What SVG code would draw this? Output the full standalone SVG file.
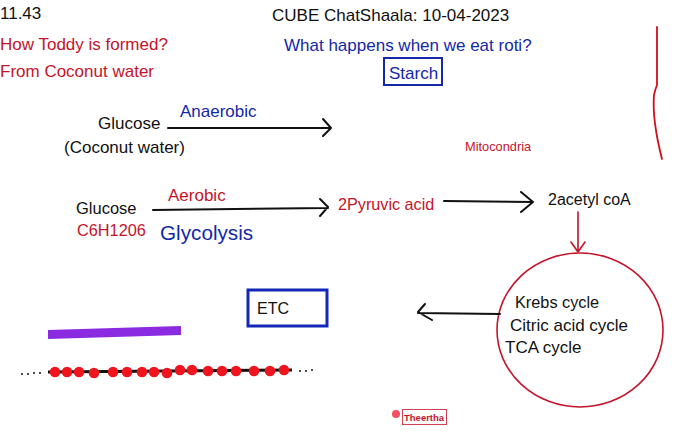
<svg xmlns="http://www.w3.org/2000/svg" width="690" height="435" viewBox="0 0 690 435">
<style>
text{font-family:"Liberation Sans",Arial,sans-serif;font-size:17px}
.k{fill:#111}
.r{fill:#c4142b}
.b{fill:#1428a8}
.ln{stroke:#111;stroke-width:2;fill:none;stroke-linecap:round;stroke-linejoin:round}
.rl{stroke:#c4142b;stroke-width:1.6;fill:none;stroke-linecap:round;stroke-linejoin:round}
</style>
<rect width="690" height="435" fill="#fff"/>
<g id="header">
<text x="0" y="19" class="k">11.43</text>
<text x="0" y="50" class="r">How Toddy is formed?</text>
<text x="0" y="77" class="r">From Coconut water</text>
<text x="272" y="21" class="k">CUBE ChatShaala: 10-04-2023</text>
<text x="284" y="51" class="b">What happens when we eat roti?</text>
</g>
<g id="starch">
<rect x="384" y="58" width="58" height="27" fill="none" stroke="#1428a8" stroke-width="2"/>
<text x="389" y="79" class="b">Starch</text>
</g>
<path d="M657 27 L657 85 Q655 90 654 95 Q652 120 662 159" fill="none" stroke="#d0101c" stroke-width="1.8" stroke-linecap="round"/>
<g id="glucose1">
<text x="98" y="129" class="k">Glucose</text>
<text x="64" y="153" class="k">(Coconut water)</text>
</g>
<text x="465" y="151" class="r" style="font-size:12.8px">Mitocondria</text>
<g id="glucose2">
<text x="76" y="214" class="k" style="font-size:16.5px">Glucose</text>
<text x="77" y="236" class="r" style="font-size:16.3px">C6H1206</text>
</g>
<text x="160" y="240" class="b" style="font-size:20.7px">Glycolysis</text>
<g id="pyruvic"><text x="338" y="210" class="r" style="font-size:16.2px">2Pyruvic acid</text></g>
<g id="acetyl"><text x="548" y="205" class="k" style="font-size:16px">2acetyl coA</text></g>
<g id="krebs">
<ellipse cx="580" cy="330" rx="83" ry="77" fill="none" stroke="#c4142b" stroke-width="1.6"/>
<text x="515" y="308" class="k" style="font-size:16.3px">Krebs cycle</text>
<text x="510" y="331" class="k">Citric acid cycle</text>
<text x="505" y="353" class="k">TCA cycle</text>
</g>
<g id="etc">
<rect x="248" y="290" width="79" height="36" fill="none" stroke="#1428b8" stroke-width="3"/>
<text x="257" y="314" class="k" style="font-size:16px">ETC</text>
</g>
<g id="connectors">
<path class="ln" d="M168 128 L331 128 M323 119 L331 128 L323 136"/>
<text x="180" y="117" class="b">Anaerobic</text>
<path class="ln" d="M153 210 L328 208 M320 199 L328 207 L320 216"/>
<text x="168" y="201" class="r">Aerobic</text>
<path class="ln" d="M444 201 L533 202 M521 192 L533 202 L521 212"/>
<path class="rl" d="M578 212 L578 252 M571 242 L578 252 L585 242"/>
<path class="ln" d="M500 314 L418 313 M425 304 L418 312 L432 320"/>
</g>
<polygon points="48,330 181,326 181,335 48,339" fill="#8a2be2"/>
<g id="chain">
<line x1="48" y1="372" x2="292" y2="370" stroke="#111" stroke-width="3"/>
<g fill="#111">
<circle cx="22" cy="374" r="1"/><circle cx="28" cy="374" r="1"/><circle cx="34" cy="373" r="1"/><circle cx="40" cy="373" r="1"/>
<circle cx="300" cy="371" r="1"/><circle cx="306" cy="371" r="1"/><circle cx="312" cy="370" r="1"/>
</g>
<g fill="#f0141e">
<circle cx="55" cy="372" r="5.3"/><circle cx="67" cy="372" r="5.3"/><circle cx="79" cy="372" r="5.3"/><circle cx="94" cy="373" r="5.3"/><circle cx="113" cy="372" r="5.3"/><circle cx="127" cy="372" r="5.3"/><circle cx="142" cy="372" r="5.3"/><circle cx="154" cy="372" r="5.3"/><circle cx="167" cy="373" r="5.3"/><circle cx="180" cy="370" r="5.3"/><circle cx="192" cy="370" r="5.3"/><circle cx="208" cy="371" r="5.3"/><circle cx="222" cy="371" r="5.3"/><circle cx="236" cy="371" r="5.3"/><circle cx="254" cy="371" r="5.3"/><circle cx="270" cy="371" r="5.3"/><circle cx="284" cy="370" r="5.3"/>
</g>
</g>
<g id="theertha">
<circle cx="396" cy="414" r="4" fill="#f05060"/>
<rect x="402.5" y="409.5" width="44" height="15" fill="#fff" stroke="#d04050" stroke-width="1"/>
<text x="404" y="421" style="font-size:9.5px;font-weight:bold" class="r">Theertha</text>
</g>
</svg>
